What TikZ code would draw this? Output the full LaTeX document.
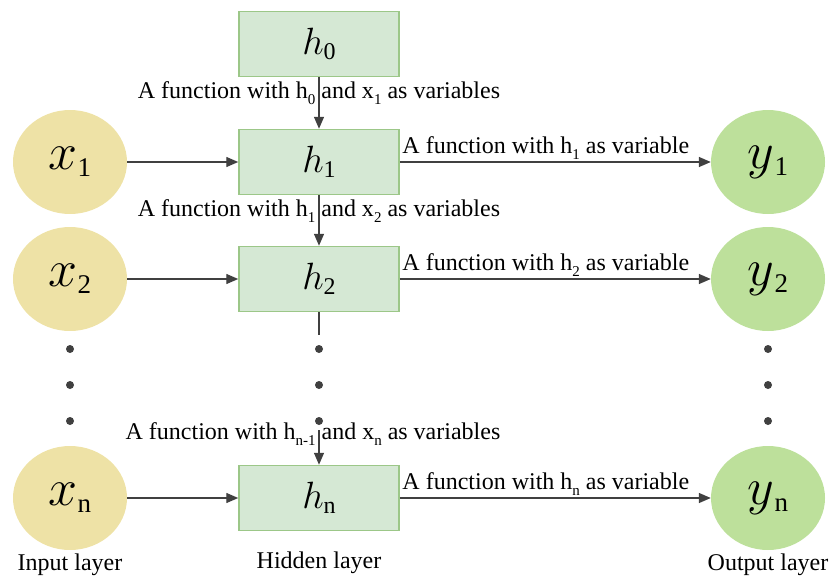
\documentclass[tikz,border=0pt]{standalone}
\usepackage{fix-cm}
\usepackage{fontspec}
\setmainfont{Liberation Serif}
\usetikzlibrary{arrows.meta,positioning,shapes.geometric}

\definecolor{boxfill}{HTML}{D5E8D4}
\definecolor{boxline}{HTML}{9CC788}
\definecolor{infill}{HTML}{EEE2A6}
\definecolor{outfill}{HTML}{BDE09B}
\definecolor{arrcol}{HTML}{404040}

% big symbols with upright subscripts
\newcommand{\hvar}[2]{{\fontsize{38}{38}\selectfont$#1$}{\fontsize{24}{24}\selectfont\raisebox{-5pt}{#2}}}
\newcommand{\cvar}[2]{{\fontsize{52}{52}\selectfont$#1$}{\fontsize{27}{27}\selectfont\raisebox{-7pt}{#2}}}
\newcommand{\sub}[1]{\raisebox{-6pt}{\fontsize{15}{15}\selectfont #1}}

\begin{document}
\begin{tikzpicture}[
  x=1pt, y=-1pt,
  font=\fontsize{24}{27}\selectfont,
  >={Triangle[length=12pt,width=10pt]},
  hid/.style={draw=boxline, line width=1.5pt, fill=boxfill,
              minimum width=160pt, minimum height=65pt, inner sep=0pt},
  inp/.style={ellipse, fill=infill, minimum width=114pt,
              minimum height=104pt, inner sep=0pt},
  outp/.style={ellipse, fill=outfill, minimum width=114pt,
               minimum height=104pt, inner sep=0pt},
  arr/.style={->, draw=arrcol, line width=1.4pt},
  seg/.style={draw=arrcol, line width=1.4pt},
  dot/.style={circle, fill=arrcol, minimum size=8pt, inner sep=0pt},
  hlbl/.style={pos=0, anchor=base west, inner sep=0pt, xshift=2pt, yshift=9pt},
  vlbl/.style={inner sep=0pt},
  layer/.style={inner sep=0pt}
]
\useasboundingbox (0,0) rectangle (834,578);

% Hidden layer
\node[hid] (h0) at (319,44)  {\hvar{h}{0}};
\node[hid] (h1) at (319,162) {\hvar{h}{1}};
\node[hid] (h2) at (319,279) {\hvar{h}{2}};
\node[hid] (hn) at (319,498) {\hvar{h}{n}};

% Input and output layers
\node[inp]  (x1) at (70,162)  {\cvar{x}{1}};
\node[inp]  (x2) at (70,279)  {\cvar{x}{2}};
\node[inp]  (xn) at (70,498)  {\cvar{x}{n}};
\node[outp] (y1) at (768,162) {\cvar{y}{1}};
\node[outp] (y2) at (768,279) {\cvar{y}{2}};
\node[outp] (yn) at (768,498) {\cvar{y}{n}};

% Dots
\foreach \y [count=\i] in {349,385,421} {
  \node[dot] (dx\i) at (70,\y)  {};
  \node[dot] (dh\i) at (319,\y) {};
  \node[dot] (dy\i) at (768,\y) {};
}
\coordinate (h2end) at (319,335);
\coordinate (hnbeg) at (319,430);

% Arrows
\draw[arr] (x1) -- (h1);
\draw[arr] (x2) -- (h2);
\draw[arr] (xn) -- (hn);
\draw[arr] (h1) -- node[hlbl] {A function with h\sub{1} as variable} (y1);
\draw[arr] (h2) -- node[hlbl] {A function with h\sub{2} as variable} (y2);
\draw[arr] (hn) -- node[hlbl] {A function with h\sub{n} as variable} (yn);
\draw[arr] (h0) -- (h1);
\draw[arr] (h1) -- (h2);
\draw[seg] (h2) -- (h2end);
\draw[arr] (hnbeg) -- (hn);

% Labels on the vertical arrows
\node[vlbl] (l1) at (319,93)  {A function with h\sub{0} and x\sub{1} as variables};
\node[vlbl] (l2) at (319,211) {A function with h\sub{1} and x\sub{2} as variables};
\node[vlbl] (ln) at (313,434) {A function with h\sub{n-1} and x\sub{n} as variables};

% Layer names
\node[layer, below=3pt of xn]  (inname)  {Input layer};
\node[layer, below=20pt of hn] (hidname) {Hidden layer};
\node[layer, below=3pt of yn]  (outname) {Output layer};
\end{tikzpicture}
\end{document}
